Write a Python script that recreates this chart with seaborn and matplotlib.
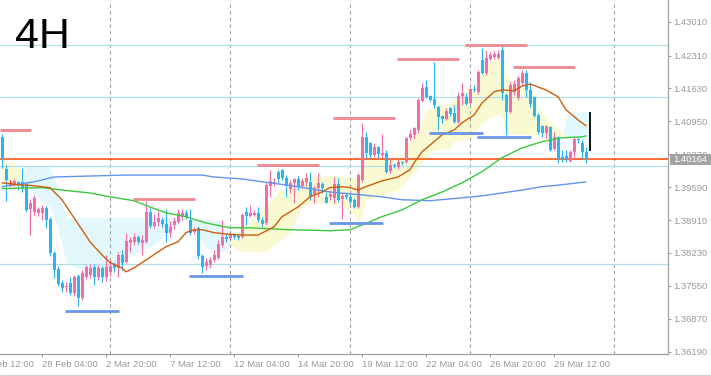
import matplotlib
matplotlib.use("Agg")
import matplotlib.pyplot as plt
from matplotlib.patches import Rectangle
from matplotlib.lines import Line2D
from matplotlib.transforms import blended_transform_factory, offset_copy
import numpy as np
import seaborn as sns

# ---------------- data ----------------
opens = [
1.4063, 1.3997, 1.3968, 1.3966, 1.3970, 1.3970, 1.3966, 1.3914, 1.3908, 1.3906,
1.3906, 1.3916, 1.3894, 1.3823, 1.3790, 1.3761, 1.3753, 1.3761, 1.3741, 1.3776,
1.3730, 1.3774, 1.3778, 1.3794, 1.3774, 1.3792, 1.3774, 1.3784, 1.3798, 1.3792,
1.3819, 1.3805, 1.3844, 1.3846, 1.3856, 1.3844, 1.3846, 1.3908, 1.3879, 1.3887,
1.3891, 1.3883, 1.3865, 1.3881, 1.3887, 1.3898, 1.3906, 1.3891, 1.3867, 1.3875,
1.3817, 1.3796, 1.3798, 1.3809, 1.3813, 1.3840, 1.3856, 1.3854, 1.3860, 1.3858,
1.3856, 1.3908, 1.3900, 1.3902, 1.3906, 1.3891, 1.3885, 1.3962, 1.3968, 1.3991,
1.3995, 1.3978, 1.3956, 1.3968, 1.3976, 1.3962, 1.3970, 1.3970, 1.3943, 1.3958,
1.3966, 1.3939, 1.3939, 1.3937, 1.3966, 1.3935, 1.3943, 1.3939, 1.3933, 1.3918,
1.3974, 1.4063, 1.4051, 1.4026, 1.4042, 1.4026, 1.4030, 1.3993, 1.4005, 1.4001,
1.4011, 1.4011, 1.4061, 1.4067, 1.4077, 1.4137, 1.4166, 1.4148, 1.4141, 1.4125,
1.4106, 1.4100, 1.4123, 1.4113, 1.4094, 1.4148, 1.4146, 1.4133, 1.4162, 1.4156,
1.4222, 1.4195, 1.4224, 1.4228, 1.4226, 1.4243, 1.4150, 1.4115, 1.4156, 1.4144,
1.4175, 1.4195, 1.4160, 1.4146, 1.4108, 1.4086, 1.4071, 1.4084, 1.4038, 1.4063,
1.4022, 1.4024, 1.4013, 1.4032, 1.4059, 1.4051, 1.4032]
highs = [
1.4069, 1.4005, 1.3974, 1.3976, 1.3972, 1.3999, 1.3970, 1.3935, 1.3943, 1.3918,
1.3922, 1.3920, 1.3898, 1.3827, 1.3796, 1.3768, 1.3763, 1.3774, 1.3778, 1.3780,
1.3788, 1.3798, 1.3801, 1.3801, 1.3798, 1.3796, 1.3819, 1.3809, 1.3805, 1.3825,
1.3829, 1.3865, 1.3856, 1.3865, 1.3860, 1.3860, 1.3931, 1.3916, 1.3904, 1.3910,
1.3898, 1.3914, 1.3889, 1.3898, 1.3914, 1.3914, 1.3912, 1.3914, 1.3877, 1.3879,
1.3821, 1.3813, 1.3815, 1.3829, 1.3850, 1.3891, 1.3865, 1.3867, 1.3865, 1.3862,
1.3906, 1.3918, 1.3922, 1.3912, 1.3918, 1.3898, 1.3970, 1.3995, 1.3978, 1.3995,
1.3997, 1.3984, 1.3974, 1.3978, 1.3982, 1.3978, 1.3989, 1.3991, 1.3962, 1.3989,
1.3970, 1.3949, 1.3953, 1.3980, 1.3978, 1.3947, 1.3947, 1.3945, 1.3937, 1.3989,
1.4092, 1.4073, 1.4053, 1.4051, 1.4044, 1.4069, 1.4036, 1.4020, 1.4009, 1.4017,
1.4013, 1.4063, 1.4077, 1.4084, 1.4144, 1.4175, 1.4181, 1.4150, 1.4218, 1.4129,
1.4108, 1.4123, 1.4125, 1.4129, 1.4156, 1.4175, 1.4154, 1.4164, 1.4170, 1.4201,
1.4247, 1.4243, 1.4239, 1.4241, 1.4243, 1.4253, 1.4154, 1.4177, 1.4181, 1.4189,
1.4201, 1.4201, 1.4177, 1.4148, 1.4113, 1.4088, 1.4088, 1.4086, 1.4073, 1.4065,
1.4036, 1.4036, 1.4036, 1.4063, 1.4061, 1.4057, 1.4042]
lows = [
1.3999, 1.3931, 1.3962, 1.3962, 1.3953, 1.3949, 1.3908, 1.3860, 1.3902, 1.3900,
1.3891, 1.3875, 1.3817, 1.3772, 1.3755, 1.3743, 1.3743, 1.3737, 1.3735, 1.3714,
1.3726, 1.3770, 1.3772, 1.3757, 1.3768, 1.3763, 1.3765, 1.3776, 1.3784, 1.3774,
1.3788, 1.3803, 1.3825, 1.3840, 1.3842, 1.3819, 1.3844, 1.3875, 1.3875, 1.3879,
1.3877, 1.3846, 1.3856, 1.3873, 1.3885, 1.3891, 1.3894, 1.3860, 1.3862, 1.3811,
1.3782, 1.3788, 1.3792, 1.3805, 1.3811, 1.3836, 1.3846, 1.3850, 1.3852, 1.3850,
1.3854, 1.3881, 1.3898, 1.3900, 1.3887, 1.3877, 1.3881, 1.3939, 1.3962, 1.3968,
1.3974, 1.3939, 1.3947, 1.3927, 1.3953, 1.3958, 1.3962, 1.3933, 1.3927, 1.3939,
1.3947, 1.3926, 1.3933, 1.3927, 1.3929, 1.3894, 1.3935, 1.3925, 1.3916, 1.3916,
1.3970, 1.4020, 1.4020, 1.4022, 1.4020, 1.4020, 1.3989, 1.3989, 1.3999, 1.3997,
1.4005, 1.4009, 1.4057, 1.4059, 1.4071, 1.4135, 1.4144, 1.4137, 1.4123, 1.4077,
1.4092, 1.4098, 1.4106, 1.4092, 1.4092, 1.4129, 1.4129, 1.4131, 1.4156, 1.4152,
1.4193, 1.4191, 1.4222, 1.4224, 1.4224, 1.4139, 1.4067, 1.4113, 1.4150, 1.4139,
1.4172, 1.4146, 1.4125, 1.4104, 1.4069, 1.4063, 1.4061, 1.4034, 1.4036, 1.4009,
1.4011, 1.4011, 1.4011, 1.4020, 1.4051, 1.4020, 1.4009]
closes = [
1.4015, 1.3974, 1.3968, 1.3972, 1.3964, 1.3958, 1.3912, 1.3927, 1.3937, 1.3914,
1.3916, 1.3891, 1.3823, 1.3788, 1.3759, 1.3751, 1.3755, 1.3741, 1.3774, 1.3730,
1.3782, 1.3794, 1.3792, 1.3774, 1.3792, 1.3774, 1.3794, 1.3796, 1.3792, 1.3819,
1.3803, 1.3848, 1.3850, 1.3856, 1.3846, 1.3850, 1.3908, 1.3879, 1.3887, 1.3896,
1.3883, 1.3865, 1.3877, 1.3889, 1.3906, 1.3906, 1.3898, 1.3865, 1.3871, 1.3817,
1.3794, 1.3805, 1.3809, 1.3819, 1.3842, 1.3856, 1.3852, 1.3860, 1.3856, 1.3854,
1.3902, 1.3900, 1.3906, 1.3906, 1.3891, 1.3883, 1.3964, 1.3972, 1.3970, 1.3976,
1.3978, 1.3962, 1.3968, 1.3976, 1.3960, 1.3972, 1.3978, 1.3939, 1.3958, 1.3968,
1.3958, 1.3927, 1.3945, 1.3966, 1.3933, 1.3941, 1.3939, 1.3929, 1.3918, 1.3984,
1.4063, 1.4030, 1.4026, 1.4042, 1.4028, 1.4030, 1.3991, 1.4005, 1.4003, 1.4011,
1.4009, 1.4061, 1.4069, 1.4082, 1.4139, 1.4164, 1.4146, 1.4139, 1.4129, 1.4104,
1.4100, 1.4117, 1.4110, 1.4094, 1.4148, 1.4154, 1.4131, 1.4162, 1.4160, 1.4197,
1.4195, 1.4226, 1.4232, 1.4234, 1.4234, 1.4154, 1.4115, 1.4170, 1.4172, 1.4185,
1.4195, 1.4160, 1.4131, 1.4106, 1.4073, 1.4071, 1.4086, 1.4036, 1.4063, 1.4020,
1.4020, 1.4017, 1.4032, 1.4059, 1.4057, 1.4032, 1.4016]
current_price = 1.40164

# moving averages (bar index, value)
ma_fast_i = [0, 4, 8, 12, 15, 17, 20, 22, 25, 27, 30, 31, 33, 35, 39, 41, 44, 46, 48, 50,
             53, 56, 60, 64, 68, 70, 74, 77, 80, 82, 85, 87, 89, 91, 95, 99, 102, 103, 105, 108,
             110, 113, 115, 118, 120, 123, 125, 128, 130, 132, 134, 136, 139, 141, 144, 146]
ma_fast_v = [1.3968, 1.3964, 1.3962, 1.3958, 1.3933, 1.3908, 1.3871, 1.3846, 1.3819, 1.3803,
             1.3792, 1.3784, 1.3792, 1.3803, 1.3825, 1.3836, 1.3846, 1.3865, 1.3871, 1.3871,
             1.3865, 1.3862, 1.3860, 1.3860, 1.3877, 1.3898, 1.3918, 1.3939, 1.3949, 1.3958,
             1.3960, 1.3958, 1.3953, 1.3960, 1.3972, 1.3980, 1.3995, 1.4009, 1.4032, 1.4053,
             1.4067, 1.4077, 1.4092, 1.4108, 1.4133, 1.4156, 1.4160, 1.4158, 1.4168, 1.4172,
             1.4166, 1.4160, 1.4146, 1.4119, 1.4098, 1.4086]
ma_mid_i = [0, 10, 15, 22, 27, 33, 37, 41, 46, 51, 57, 62, 72, 82, 87, 90, 95, 100, 105, 110,
            115, 120, 125, 130, 135, 140, 145, 146]
ma_mid_v = [1.3956, 1.3958, 1.3953, 1.3947, 1.3939, 1.3931, 1.3918, 1.3906, 1.3898, 1.3885,
            1.3875, 1.3875, 1.3871, 1.3869, 1.3871, 1.3881, 1.3898, 1.3912, 1.3933, 1.3949,
            1.3968, 1.3991, 1.4020, 1.4040, 1.4053, 1.4061, 1.4063, 1.4065]
ma_slow_i = [0, 8, 13, 31, 50, 53, 60, 67, 74, 82, 90, 95, 100, 107, 115, 120, 125, 130, 135, 140, 146]
ma_slow_v = [1.3960, 1.3970, 1.3980, 1.3984, 1.3984, 1.3980, 1.3976, 1.3968, 1.3960, 1.3949,
             1.3943, 1.3939, 1.3933, 1.3931, 1.3937, 1.3941, 1.3947, 1.3953, 1.3960, 1.3964, 1.3970]

# shaded trend bands
band1_i = [0, 3, 5]
band1_hi = [1.4015, 1.4009, 1.3991]
band1_lo = [1.3960, 1.3960, 1.3962]
band2_i = [5, 6, 12, 14, 16, 19, 26, 29, 31, 33, 35, 38, 40, 42, 45, 46, 47, 49, 51, 54, 56, 57]
band2_hi = [1.3984, 1.4003, 1.4003, 1.3953, 1.3896, 1.3896, 1.3896, 1.3896, 1.3896, 1.3896, 1.3896,
            1.3896, 1.3896, 1.3896, 1.3896, 1.3894, 1.3891, 1.3891, 1.3891, 1.3891, 1.3887, 1.3871]
band2_lo = [1.3962, 1.3958, 1.3918, 1.3875, 1.3805, 1.3792, 1.3790, 1.3794, 1.3809, 1.3821, 1.3829,
            1.3840, 1.3854, 1.3871, 1.3887, 1.3894, 1.3889, 1.3860, 1.3833, 1.3825, 1.3829, 1.3840]
band3_i = [57, 60, 63, 66, 69, 72, 74, 75, 80, 85, 88, 89, 90, 91, 95, 99, 102, 104, 106, 108,
           112, 113, 117, 119, 120, 122, 124, 125, 126, 128, 131, 133, 134, 136, 138, 140, 141]
band3_hi = [1.3850, 1.3875, 1.3896, 1.3922, 1.3949, 1.3962, 1.3974, 1.3978, 1.3982, 1.3982,
            1.3978, 1.3978, 1.4005, 1.4020, 1.4020, 1.4015, 1.4057, 1.4077, 1.4119, 1.4125,
            1.4133, 1.4144, 1.4160, 1.4181, 1.4197, 1.4218, 1.4226, 1.4212, 1.4191, 1.4170,
            1.4164, 1.4150, 1.4125, 1.4102, 1.4088, 1.4073, 1.4063]
band3_lo = [1.3840, 1.3825, 1.3825, 1.3825, 1.3846, 1.3865, 1.3902, 1.3922, 1.3927, 1.3922,
            1.3902, 1.3881, 1.3902, 1.3933, 1.3943, 1.3953, 1.3980, 1.3999, 1.4020, 1.4036,
            1.4040, 1.4053, 1.4061, 1.4082, 1.4092, 1.4102, 1.4110, 1.4102, 1.4073, 1.4069,
            1.4067, 1.4067, 1.4067, 1.4065, 1.4063, 1.4063, 1.4061]
band4_i = [140, 141, 142, 146, 147]
band4_hi = [1.4063, 1.4102, 1.4115, 1.4115, 1.4115]
band4_lo = [1.4063, 1.4061, 1.4061, 1.4057, 1.4057]

# support / resistance segments
res_start = [-0.5, 32.75, 63.75, 82.75, 98.75, 115.75, 127.75]
res_end = [7.25, 48.25, 79.25, 98.25, 114.25, 131.25, 143.25]
res_level = [1.4077, 1.3935, 1.4005, 1.4102, 1.4224, 1.4252, 1.4208]
sup_start = [15.75, 46.75, 81.75, 106.75, 118.75]
sup_end = [29.25, 60.25, 95.25, 120.25, 132.25]
sup_level = [1.3704, 1.3775, 1.3885, 1.4071, 1.4062]

level_lines = [1.4253, 1.4145, 1.4003, 1.3801]
separators = [27, 57, 87, 117, 153]
range_i, range_hi, range_lo = 147, 1.4115, 1.4034

ytick_vals = [1.43010, 1.42310, 1.41630, 1.40950, 1.40270, 1.39590,
              1.38910, 1.38230, 1.37550, 1.36870, 1.36190]
xtick_i = [10, 26, 42, 58, 74, 90, 106, 122, 138]
xtick_labels = ["28 Feb 04:00", "2 Mar 20:00", "7 Mar 12:00", "12 Mar 04:00", "14 Mar 20:00",
                "19 Mar 12:00", "22 Mar 04:00", "26 Mar 20:00", "29 Mar 12:00"]
first_tick_i, first_tick_label = -6, "23 Feb 12:00"

# ---------------- style ----------------
PINK = "#f26eaa"
BLUE = "#2cb5f2"
RED = "#ff1a1a"
YEL = "#fafad2"
CYAN = "#e3f8fc"
AXC = "#a0a0a0"
TXC = "#9a9a9a"

sns.set_style("white")
plt.rcParams["font.family"] = ["Liberation Sans", "DejaVu Sans"]

W, H = 711, 376
fig = plt.figure(figsize=(W / 100, H / 100), dpi=100)
ax = fig.add_axes([0, 22 / H, 668 / W, 354 / H])
ax.set_xlim(-0.5, 166.5)
ax.set_ylim(1.36142, 1.43458)

for bi, bh, bl, colr in [(band1_i, band1_hi, band1_lo, YEL), (band2_i, band2_hi, band2_lo, CYAN),
                         (band3_i, band3_hi, band3_lo, YEL), (band4_i, band4_hi, band4_lo, CYAN)]:
    ax.fill_between(bi, bl, bh, color=colr, lw=0, zorder=1)

for s in separators:
    ax.axvline(s, color=AXC, lw=0.8, ls=(0, (3, 3)), zorder=1.5)
for lv in level_lines:
    ax.axhline(lv, color="#b0e0e6", lw=0.9, zorder=2)
ax.axhline(current_price, color="#ff4500", lw=1.1, zorder=2.2)

# candles
o = np.array(opens); h = np.array(highs); l = np.array(lows); c = np.array(closes)
idx = np.arange(len(c))
cols = np.where(c > o, PINK, np.where(c < o, BLUE, RED))
ax.vlines(idx, l, h, colors=cols, lw=0.85, zorder=3)
doji = c == o
body_lo = np.minimum(o, c)
body_h = np.maximum(np.abs(c - o), 0.00021)
m = ~doji
ax.bar(idx[m], body_h[m], bottom=body_lo[m], width=0.75, color=list(cols[m]), lw=0,
       antialiased=False, zorder=4)
ax.hlines(o[doji], idx[doji] - 0.45, idx[doji] + 0.45, colors=RED, lw=0.9, zorder=4)

# moving averages
sns.lineplot(x=ma_slow_i, y=ma_slow_v, ax=ax, color="#6495ed", lw=1.0, estimator=None, sort=False, zorder=5)
sns.lineplot(x=ma_mid_i, y=ma_mid_v, ax=ax, color="#3cc83c", lw=1.0, estimator=None, sort=False, zorder=5)
sns.lineplot(x=ma_fast_i, y=ma_fast_v, ax=ax, color="#cc6010", lw=1.0, estimator=None, sort=False, zorder=5)

ax.hlines(res_level, res_start, res_end, colors="#f0868f", lw=2.0, zorder=6)
ax.hlines(sup_level, sup_start, sup_end, colors="#6a96e8", lw=2.0, zorder=6)
ax.vlines([range_i], [range_lo], [range_hi], colors="black", lw=1.3, zorder=6)

# axes
ax.set_xlabel(""); ax.set_ylabel("")
ax.grid(False)
for sp in ["left", "top"]:
    ax.spines[sp].set_visible(False)
for sp in ["right", "bottom"]:
    ax.spines[sp].set_visible(True)
    ax.spines[sp].set_color(AXC)
    ax.spines[sp].set_linewidth(0.9)
ax.yaxis.tick_right()
ax.set_yticks(ytick_vals)
ax.set_yticklabels([f"{v:.5f}" for v in ytick_vals])
ax.tick_params(axis="y", which="both", direction="out", length=2.5, width=0.8, color=AXC,
               labelcolor=TXC, labelsize=6.8, pad=1.5, right=True, left=False)
ax.set_xticks(xtick_i)
ax.set_xticklabels(xtick_labels)
for t in ax.get_xticklabels():
    t.set_ha("left")
ax.tick_params(axis="x", direction="out", length=2.5, width=0.8, color=AXC,
               labelcolor=TXC, labelsize=6.8, pad=1.5, bottom=True)
trx = offset_copy(blended_transform_factory(ax.transData, ax.transAxes), fig=fig, y=-4.0, units="points")
ax.text(first_tick_i, 0, first_tick_label, transform=trx, ha="left", va="top",
        fontsize=6.8, color=TXC, clip_on=False)

# current price box
trp = blended_transform_factory(ax.transAxes, ax.transData)
ax.add_patch(Rectangle((1 + 2 / 668, current_price - 0.00114), 41 / 668, 0.00228,
                       transform=trp, facecolor="#a3a3a3", edgecolor="none", clip_on=False, zorder=10))
ax.text(1 + 5 / 668, current_price, f"{current_price:.5f}", transform=trp, color="white",
        va="center", ha="left", fontsize=6.8, zorder=11, clip_on=False)

fig.text(15 / W, 1 - 48 / H, "4H", fontsize=31, color="black", ha="left", va="baseline")
fig.add_artist(Line2D([0, 1], [0.6 / H, 0.6 / H], color="#d4d4d4", lw=0.8))

fig.savefig("out.png", dpi=100)
